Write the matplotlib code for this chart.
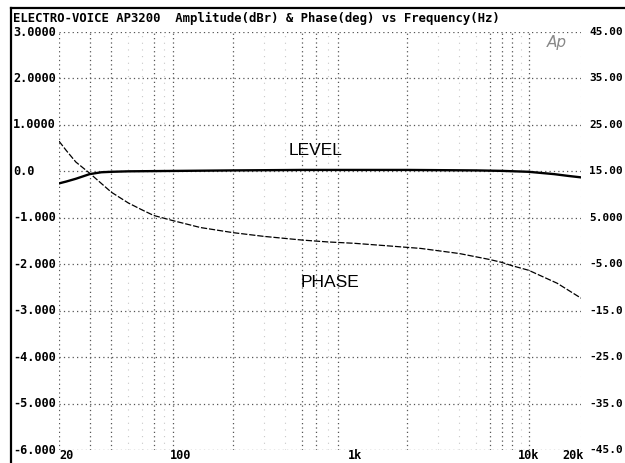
"""
Audio Precision style level / phase sweep for the Electro-Voice AP3200.
"""

import numpy as np
import matplotlib.pyplot as plt
from matplotlib.lines import Line2D
from matplotlib.transforms import blended_transform_factory, offset_copy

# level sweep (dBr, left axis)
level_freq = [20, 22, 25, 30, 35, 40, 50, 100, 200, 500, 1000, 2000, 5000, 7000,
              10000, 14000, 17000, 20000]
level_dbr = [-0.26, -0.22, -0.16, -0.06, -0.02, -0.01, 0.0, 0.01, 0.02, 0.03, 0.03,
             0.03, 0.02, 0.01, -0.01, -0.06, -0.10, -0.13]

# phase sweep (deg, right axis)
phase_freq = [20, 22, 25, 30, 35, 40, 50, 60, 70, 90, 130, 200, 300, 500, 700, 1000,
              1500, 2400, 4000, 6000, 7000, 8000, 10000, 14600, 20000]
phase_deg = [21.5, 19.5, 17.0, 14.6, 12.4, 10.5, 8.2, 6.7, 5.5, 4.4, 2.9, 1.8, 1.0,
             0.2, -0.2, -0.5, -1.0, -1.6, -2.7, -4.0, -4.6, -5.3, -6.3, -9.1, -12.3]

# axis labelling
x_ticks = [20, 100, 1000, 10000, 20000]
x_labels = ['20', '100', '1k', '10k', '20k']
left_ticks = [3, 2, 1, 0, -1, -2, -3, -4, -5, -6]
left_labels = ['3.0000', '2.0000', '1.0000', '0.0', '-1.000', '-2.000', '-3.000',
               '-4.000', '-5.000', '-6.000']
right_ticks = [45, 35, 25, 15, 5, -5, -15, -25, -35, -45]
right_labels = ['45.00', '35.00', '25.00', '15.00', '5.000', '-5.00', '-15.0',
                '-25.0', '-35.0', '-45.0']

# dotted vertical grid as it shows up on the plot
grid_strong = [20, 30, 40, 70, 90, 200, 500, 600, 800, 2000, 6000, 7000, 8000, 10000]
grid_faint = [50, 60, 80, 300, 400, 700, 3000, 4000, 5000, 9000, 20000]

mono = {'family': 'DejaVu Sans Mono', 'weight': 'bold', 'size': 8.6}
mono_r = dict(mono, size=8.0)
dots = (0, (1, 2.5))

fig = plt.figure(figsize=(6.25, 4.63), dpi=100)
W, H = 625, 463
ax = fig.add_axes([59 / W, 1 - 450 / H, 522 / W, 418 / H])
ax2 = ax.twinx()

ax.set_xscale('log')
ax.set_xlim(20, 20000)
ax.set_ylim(-6, 3)
ax2.set_ylim(-45, 45)

for a in (ax, ax2):
    for s in a.spines.values():
        s.set_visible(False)
    a.set_xticks([])
    a.set_yticks([])
    a.xaxis.set_minor_locator(plt.NullLocator())
    a.yaxis.set_minor_locator(plt.NullLocator())

# grid
for v in left_ticks:
    ax.axhline(v, color='#555555', lw=0.9, ls=dots, zorder=1)
for f in grid_strong:
    ax.axvline(f, color='#555555', lw=0.9, ls=dots, zorder=1)
for f in grid_faint:
    ax.axvline(f, color='#c8c8c8', lw=0.8, ls=(0, (1, 5)), zorder=1)

# curves
ax.plot(level_freq, level_dbr, color='black', lw=1.7, zorder=3)
ax2.plot(phase_freq, phase_deg, color='black', lw=0.9, ls=(0, (5, 1.5)), zorder=3)

ax.text(600, 0.45, 'LEVEL', fontsize=12.5, family='Liberation Sans',
        ha='center', va='center')
ax.text(720, -2.4, 'PHASE', fontsize=12.5, family='Liberation Sans',
        ha='center', va='center')

# tick labels
tx = blended_transform_factory(ax.transData, ax.transAxes)
for f, lab in zip(x_ticks, x_labels):
    ha = 'left' if lab == '20' else 'center'
    tr = offset_copy(tx, fig=fig, x=-8 if lab == '20k' else 0, y=1, units='dots')
    ax.text(f, 0, lab, transform=tr, ha=ha, va='top', fontdict=mono)

ty = blended_transform_factory(fig.transFigure, ax.transData)
for v, lab in zip(left_ticks, left_labels):
    ax.text(13 / W, v, lab, transform=ty, ha='left', va='center', fontdict=mono)

# right-hand labels squeezed so they stay inside the canvas
ty2 = blended_transform_factory(fig.transFigure, ax2.transData)
for v, lab in zip(right_ticks, right_labels):
    ax2.text(623 / W, v, lab, transform=ty2, ha='right', va='center',
             fontdict=mono_r, clip_on=False)

# header and frame
fig.text(13 / W, 1 - 18 / H,
         'ELECTRO-VOICE AP3200  Amplitude(dBr) & Phase(deg) vs Frequency(Hz)',
         ha='left', va='center', fontdict=dict(mono, size=8.8))
fig.text(557 / W, 1 - 42 / H, 'Ap', fontsize=11, style='italic', color='#888888',
         family='DejaVu Sans', fontweight='light', ha='center', va='center')
fig.add_artist(Line2D([11 / W, 1], [1 - 8 / H, 1 - 8 / H], color='black', lw=1.6))
fig.add_artist(Line2D([11 / W, 11 / W], [0, 1 - 8 / H], color='black', lw=1.6))

plt.savefig('out.png', dpi=100)
plt.close()
